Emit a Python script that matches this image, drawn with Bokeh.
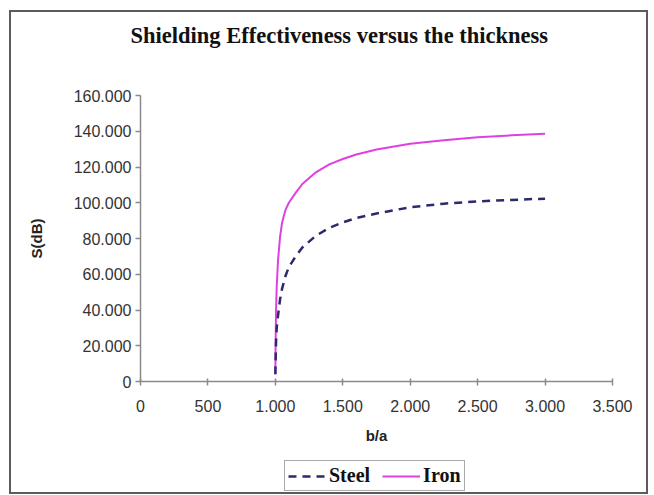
from bokeh.plotting import figure
from bokeh.layouts import column
from bokeh.models import Range1d, FixedTicker, Legend, LegendItem, Title
from bokeh.embed import file_html
from bokeh.resources import INLINE

# ---- data ----
ba = [1000, 1002, 1005, 1010, 1020, 1035, 1050, 1075, 1100, 1150, 1200,
      1300, 1400, 1500, 1600, 1750, 2000, 2250, 2500, 2750, 3000]
iron = [4, 22, 40, 53, 68, 81, 89, 96, 100, 105.5, 110.5,
        117, 121.5, 124.5, 127, 129.8, 133, 135, 136.6, 137.7, 138.6]
steel = [4, 12, 22, 30, 37, 46, 52, 59, 64, 70, 75,
         81.5, 86, 89, 91.5, 94, 97.5, 99.5, 100.8, 101.6, 102.3]

x_ticks = [0, 500, 1000, 1500, 2000, 2500, 3000, 3500]
x_tick_labels = ["0", "500", "1.000", "1.500", "2.000", "2.500", "3.000", "3.500"]
y_ticks = [0, 20, 40, 60, 80, 100, 120, 140, 160]
y_tick_labels = ["0", "20.000", "40.000", "60.000", "80.000", "100.000",
                 "120.000", "140.000", "160.000"]

title_text = "Shielding Effectiveness versus the thickness"
x_label = "b/a"
y_label = "S(dB)"
series_names = ["Steel", "Iron"]

steel_style = dict(line_color="#2b2b6b", line_width=2.5, line_dash="8 6")
iron_style = dict(line_color="#e040e0", line_width=2)

# ---- main figure ----
p = figure(frame_width=472, frame_height=286, title=None,
           output_backend="svg", toolbar_location=None,
           x_range=Range1d(0, 3500), y_range=Range1d(0, 160),
           min_border_left=129, min_border_right=34,
           min_border_top=83, min_border_bottom=78)
p.background_fill_color = "white"
p.border_fill_color = "white"
p.outline_line_color = None
p.xgrid.grid_line_color = None
p.ygrid.grid_line_color = None

# spacer nearest the frame, then the real title above it
spacer = Title(text=" ", text_font_size="1px", standoff=40)
p.add_layout(spacer, "above")
main_title = Title(text=title_text, text_font="Liberation Serif",
                   text_font_style="bold", text_font_size="22.5px",
                   text_color="#111111", align="left", offset=-10, standoff=10)
p.add_layout(main_title, "above")

axis_color = "#8a8a8a"
for ax in (p.xaxis[0], p.yaxis[0]):
    ax.axis_line_color = axis_color
    ax.axis_line_width = 1.5
    ax.major_tick_line_color = axis_color
    ax.major_tick_line_width = 1.5
    ax.minor_tick_line_color = None
    ax.major_label_text_font = "Liberation Sans"
    ax.major_label_text_font_size = "16px"
    ax.major_label_text_color = "#333333"
    ax.axis_label_text_font = "Liberation Sans"
    ax.axis_label_text_font_size = "15px"
    ax.axis_label_text_font_style = "bold"
    ax.axis_label_text_color = "#222222"

p.xaxis[0].ticker = FixedTicker(ticks=x_ticks)
p.xaxis[0].major_label_overrides = dict(zip(x_ticks, x_tick_labels))
p.xaxis[0].major_tick_in = 3
p.xaxis[0].major_tick_out = 4
p.xaxis[0].major_label_standoff = 14
p.xaxis[0].axis_label = x_label
p.xaxis[0].axis_label_standoff = 12

p.yaxis[0].ticker = FixedTicker(ticks=y_ticks)
p.yaxis[0].major_label_overrides = dict(zip(y_ticks, y_tick_labels))
p.yaxis[0].major_tick_in = 0
p.yaxis[0].major_tick_out = 5
p.yaxis[0].major_label_standoff = 4
p.yaxis[0].axis_label = y_label
p.yaxis[0].axis_label_standoff = 26

p.line(ba, iron, **iron_style)
p.line(ba, steel, **steel_style)

# ---- legend strip below the plot (same series, outside its visible range) ----
lf = figure(width=635, height=33, output_backend="svg", toolbar_location=None,
            x_range=Range1d(0, 1), y_range=Range1d(0, 1),
            x_axis_location=None, y_axis_location=None, min_border=0)
lf.background_fill_color = "white"
lf.border_fill_color = "white"
lf.outline_line_color = None
lf.xgrid.grid_line_color = None
lf.ygrid.grid_line_color = None
lr_steel = lf.line(ba, steel, **steel_style)
lr_iron = lf.line(ba, iron, **iron_style)

legend = Legend(items=[LegendItem(label=series_names[0], renderers=[lr_steel]),
                       LegendItem(label=series_names[1], renderers=[lr_iron])],
                location=(144, 1), orientation="horizontal")
legend.label_text_font = "Liberation Serif"
legend.label_text_font_style = "bold"
legend.label_text_font_size = "20px"
legend.label_text_color = "#111111"
legend.label_standoff = 3
legend.label_height = 20
legend.glyph_height = 18
legend.glyph_width = 38
legend.spacing = 12
legend.padding = 3
legend.margin = 0
legend.border_line_color = "#555555"
legend.border_line_width = 1.5
legend.background_fill_alpha = 1
lf.add_layout(legend, "center")

layout = column(p, lf, spacing=0)
layout.styles = {"border": "2px solid #5c5c5c", "margin-left": "9px", "margin-top": "10px",
                 "background-color": "white"}

open("out.html", "w").write(file_html(layout, INLINE))
